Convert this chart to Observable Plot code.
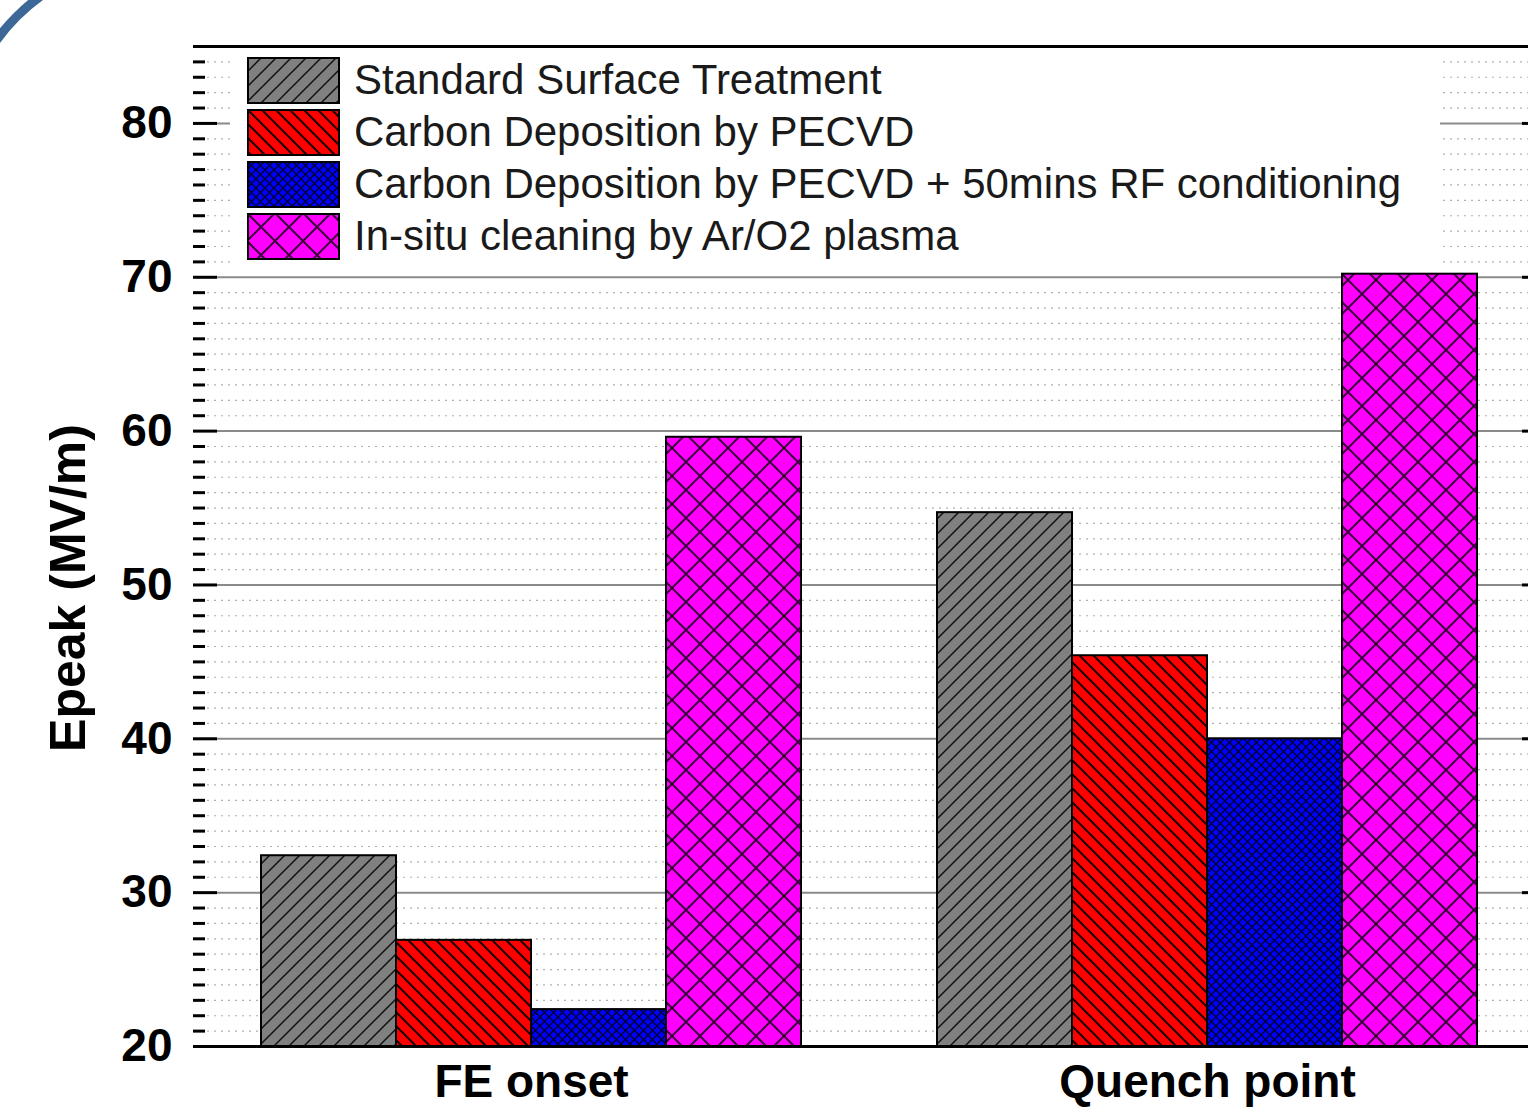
<!DOCTYPE html>
<html>
<head>
<meta charset="utf-8">
<script src="https://cdn.jsdelivr.net/npm/d3@7"></script>
<script src="https://cdn.jsdelivr.net/npm/@observablehq/plot@0.6"></script>
<style>
  html, body { margin: 0; padding: 0; background: #fff; overflow: hidden; }
  #wrap { position: relative; width: 1528px; height: 1107px; overflow: hidden; font-family: "Liberation Sans", Arial, sans-serif; }
  #chart { position: absolute; left: 0; top: 0; width: 1560px; height: 1107px; }
  #chart svg { max-width: none !important; }
  #legend { position: absolute; left: 230px; top: 48px; width: 1210px; height: 220px; background: #fff; box-sizing: border-box; padding: 9px 0 0 17px; }
  #legend .row { display: flex; align-items: center; height: 46px; margin-bottom: 6px; }
  #legend .row svg { flex: none; display: block; }
  #legend .row span { margin-left: 14px; font-size: 42px; color: #1a1a1a; white-space: nowrap; line-height: 46px; }
  #ylabel { position: absolute; left: 68px; top: 588px; transform: translate(-50%, -50%) rotate(-90deg); font-size: 50px; font-weight: bold; white-space: nowrap; color: #000; }
  #corner { position: absolute; left: 0; top: 0; width: 60px; height: 50px; overflow: hidden; }
  #corner div { position: absolute; left: -44px; top: -44px; width: 392px; height: 392px; box-sizing: border-box; border: 9px solid #3d6797; border-radius: 50%; }
</style>
</head>
<body>
<svg width="0" height="0" style="position:absolute">
  <defs>
    <pattern id="pat-gray" patternUnits="userSpaceOnUse" width="15" height="15">
      <rect width="15" height="15" fill="#808080"></rect>
      <path d="M-3.75,3.75 L3.75,-3.75 M0,15 L15,0 M11.25,18.75 L18.75,11.25" stroke="#111" stroke-width="1.5"></path>
    </pattern>
    <pattern id="pat-red" patternUnits="userSpaceOnUse" width="14" height="14">
      <rect width="14" height="14" fill="#ff0000"></rect>
      <path d="M0,0 L14,14 M-3.5,10.5 L3.5,17.5 M10.5,-3.5 L17.5,3.5" stroke="#1a0000" stroke-width="2"></path>
    </pattern>
    <pattern id="pat-blue" patternUnits="userSpaceOnUse" width="9" height="9">
      <rect width="9" height="9" fill="#0000ff"></rect>
      <path d="M0,0 L9,9 M9,0 L0,9" stroke="#000033" stroke-width="1.4"></path>
    </pattern>
    <pattern id="pat-magenta" patternUnits="userSpaceOnUse" width="28" height="28">
      <rect width="28" height="28" fill="#ff00ff"></rect>
      <path d="M0,0 L28,28 M28,0 L0,28" stroke="#3d003d" stroke-width="2"></path>
    </pattern>
  </defs>
</svg>
<div id="wrap">
  <div id="chart"></div>
  <div id="legend"></div>
  <div id="ylabel">Epeak (MV/m)</div>
  <div id="corner"><div></div></div>
</div>
<script>
// ---- data ----
const categories = ["FE onset", "Quench point"];
const series = [
  "Standard Surface Treatment",
  "Carbon Deposition by PECVD",
  "Carbon Deposition by PECVD + 50mins RF conditioning",
  "In-situ cleaning by Ar/O2 plasma"
];
const feOnsetValues = [32.4, 26.9, 22.4, 59.6];
const quenchPointValues = [54.7, 45.4, 40.0, 70.2];
const yMajorTicks = [20, 30, 40, 50, 60, 70, 80];
const yMinorTicks = [21,22,23,24,25,26,27,28,29,31,32,33,34,35,36,37,38,39,41,42,43,44,45,46,47,48,49,51,52,53,54,55,56,57,58,59,61,62,63,64,65,66,67,68,69,71,72,73,74,75,76,77,78,79,81,82,83,84];
const yGridMajor = [30, 40, 50, 60, 70, 80];
const yDomain = [20, 85];
const patternFills = ["url(#pat-gray)", "url(#pat-red)", "url(#pat-blue)", "url(#pat-magenta)"];

const valuesByCategory = [feOnsetValues, quenchPointValues];
const table = [];
categories.forEach((c, ci) => {
  series.forEach((s, si) => table.push({category: c, series: s, value: valuesByCategory[ci][si]}));
});

const blank = () => "";

const chart = Plot.plot({
  width: 1560,
  height: 1107,
  marginLeft: 193,
  marginRight: 15,
  marginTop: 46,
  marginBottom: 61,
  style: {fontFamily: "Liberation Sans, Arial, sans-serif", fontSize: "46px", fontWeight: "bold", color: "#000", background: "transparent", overflow: "visible", maxWidth: "none"},
  fx: {domain: categories, padding: 0, label: null, axis: null},
  x: {domain: series, paddingInner: 0, paddingOuter: 0.5, axis: null},
  y: {domain: yDomain, axis: null},
  color: {type: "ordinal", domain: series, range: patternFills},
  marks: [
    Plot.gridY(yMinorTicks, {stroke: "#b0b0b0", strokeOpacity: 1, strokeWidth: 1.2, strokeDasharray: "2,5"}),
    Plot.gridY(yGridMajor, {stroke: "#8a8a8a", strokeOpacity: 1, strokeWidth: 2}),
    Plot.barY(table, {fx: "category", x: "series", y1: yDomain[0], y2: "value", fill: "series", stroke: "#000", strokeWidth: 2}),
    Plot.ruleY([yDomain[0]], {stroke: "#000", strokeWidth: 3}),
    Plot.ruleY([yDomain[1]], {stroke: "#000", strokeWidth: 3}),
    Plot.axisY({anchor: "left", ticks: yMinorTicks, tickSize: -12, tickFormat: blank, strokeWidth: 3, label: null}),
    Plot.axisY({anchor: "left", ticks: yMajorTicks, tickSize: -24, tickPadding: 45, line: true, strokeWidth: 3, label: null}),
    Plot.axisY({anchor: "right", ticks: yMinorTicks, tickSize: -12, tickFormat: blank, strokeWidth: 3, label: null}),
    Plot.axisY({anchor: "right", ticks: yMajorTicks, tickSize: -24, tickFormat: blank, line: true, strokeWidth: 3, label: null}),
    Plot.axisFx({anchor: "bottom", tickSize: 0, tickPadding: 18, label: null})
  ]
});
document.getElementById("chart").appendChild(chart);

// ---- legend (overlaid inside plot area) ----
const legend = d3.select("#legend");
series.forEach((s, i) => {
  const row = legend.append("div").attr("class", "row");
  const sv = row.append("svg").attr("width", 93).attr("height", 47);
  sv.append("rect").attr("x", 1).attr("y", 1).attr("width", 91).attr("height", 45)
    .attr("fill", patternFills[i]).attr("stroke", "#000").attr("stroke-width", 2);
  row.append("span").text(s);
});
</script>
</body>
</html>
